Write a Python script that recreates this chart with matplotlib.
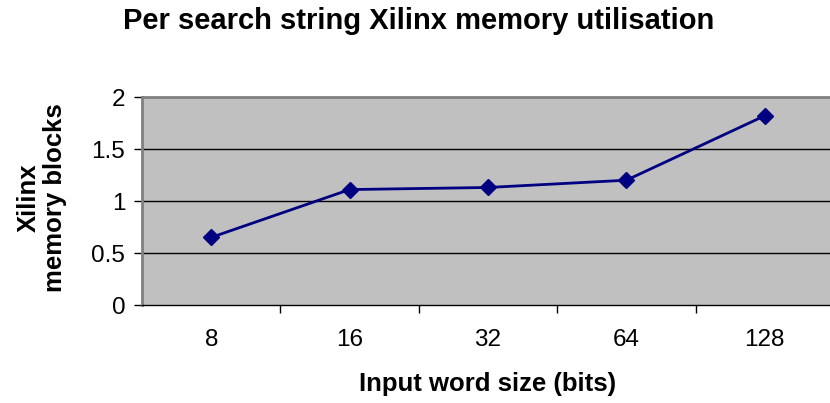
import matplotlib
matplotlib.use("Agg")
import matplotlib.pyplot as plt

categories = ["8", "16", "32", "64", "128"]
values = [0.65, 1.11, 1.13, 1.20, 1.82]
yticks = [0, 0.5, 1, 1.5, 2]
ytick_labels = ["0", "0.5", "1", "1.5", "2"]

plt.rcParams['font.family'] = ['Liberation Sans', 'DejaVu Sans']

W, H = 830, 403
fig = plt.figure(figsize=(W/100, H/100), dpi=100)
left, right, top, bottom = 142, 834, 97, 305
ax = fig.add_axes([left/W, 1 - bottom/H, (right-left)/W, (bottom-top)/H])
ax.set_facecolor('#C0C0C0')

x = list(range(len(categories)))
ax.plot(x, values, color='#000080', lw=2, marker='D', ms=8, mfc='#000080', mec='#000080', zorder=3)

ax.set_xlim(-0.5, len(categories) - 0.5)
ax.set_ylim(0, 2)
ax.set_yticks(yticks)
ax.set_yticklabels(ytick_labels, fontsize=17.5)
ax.set_xticks(x)
ax.set_xticklabels(categories, fontsize=17.5)
ax.set_xticks([i + 0.5 for i in range(len(categories) - 1)], minor=True)
ax.tick_params(axis='x', which='major', length=0, pad=17)
ax.tick_params(axis='x', which='minor', length=6, direction='out', color='black', width=1)
ax.tick_params(axis='y', length=6, direction='out', color='black', width=1, pad=6)

for yv in yticks[1:-1]:
    ax.axhline(yv, color='black', lw=1, zorder=1)

for s in ['top', 'left']:
    ax.spines[s].set_color('#808080')
    ax.spines[s].set_linewidth(2)
ax.spines['bottom'].set_color('black')
ax.spines['bottom'].set_linewidth(1)
ax.spines['right'].set_visible(False)

fig.text(419/W, 1 - 21/H, "Per search string Xilinx memory utilisation", ha='center', va='center',
         fontsize=21, fontweight='bold')
fig.text(488/W, 1 - 384/H, "Input word size (bits)", ha='center', va='center',
         fontsize=18.5, fontweight='bold')
fig.text(42/W, 1 - 198/H, "Xilinx\nmemory blocks", ha='center', va='center', rotation=90,
         fontsize=18.5, fontweight='bold', linespacing=1.15)

fig.savefig("out.png", dpi=100)
